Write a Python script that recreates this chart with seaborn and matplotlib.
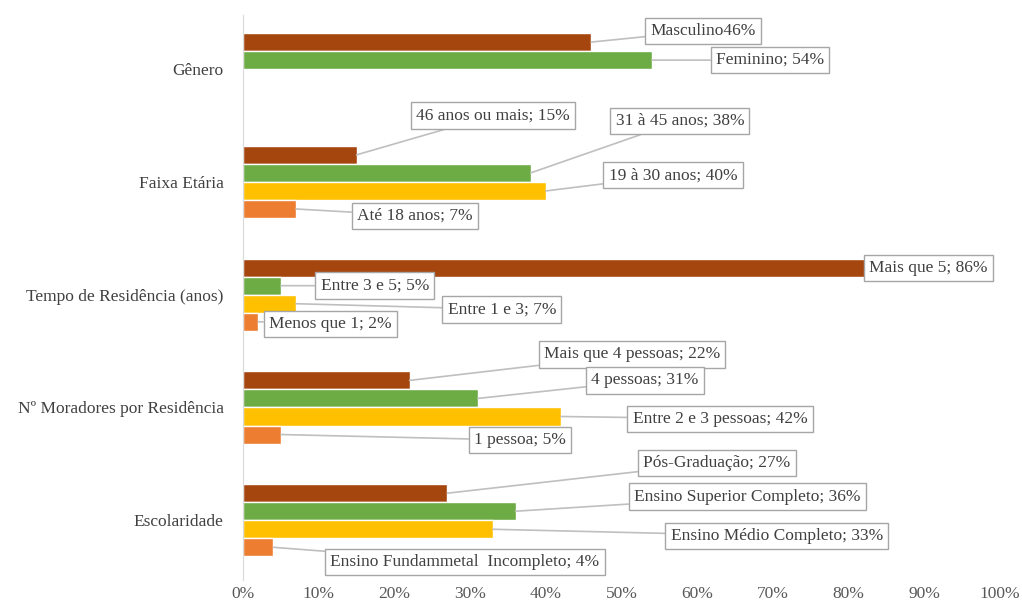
import matplotlib
matplotlib.use("Agg")
import matplotlib.pyplot as plt
import seaborn as sns
import pandas as pd
from matplotlib.ticker import PercentFormatter

# categories (top to bottom) and the four series (top bar to bottom bar)
categories = ["Gênero", "Faixa Etária", "Tempo de Residência (anos)",
              "Nº Moradores por Residência", "Escolaridade"]
series = ["S4", "S3", "S2", "S1"]
colors = ["#A5460F", "#6DAC45", "#FFC000", "#ED7D31"]

s4_values = [46, 15, 86, 22, 27]
s3_values = [54, 38, 5, 31, 36]
s2_values = [None, 40, 7, 42, 33]
s1_values = [None, 7, 2, 5, 4]

s4_labels = ["Masculino46%", "46 anos ou mais; 15%", "Mais que 5; 86%",
             "Mais que 4 pessoas; 22%", "Pós-Graduação; 27%"]
s3_labels = ["Feminino; 54%", "31 à 45 anos; 38%", "Entre 3 e 5; 5%",
             "4 pessoas; 31%", "Ensino Superior Completo; 36%"]
s2_labels = [None, "19 à 30 anos; 40%", "Entre 1 e 3; 7%",
             "Entre 2 e 3 pessoas; 42%", "Ensino Médio Completo; 33%"]
s1_labels = [None, "Até 18 anos; 7%", "Menos que 1; 2%",
             "1 pessoa; 5%", "Ensino Fundammetal  Incompleto; 4%"]

# callout box centres (x in %, y in category units) - layout only
s4_pos = [(60.8, -0.34), (33.0, 0.41), (90.5, 1.765), (51.4, 2.53), (62.6, 3.49)]
s3_pos = [(69.6, -0.08), (57.7, 0.46), (17.4, 1.92), (53.1, 2.76), (66.6, 3.79)]
s2_pos = [None, (56.8, 0.94), (34.2, 2.13), (63.0, 3.10), (70.5, 4.14)]
s1_pos = [None, (22.7, 1.30), (11.5, 2.26), (36.6, 3.29), (29.3, 4.37)]

all_values = [s4_values, s3_values, s2_values, s1_values]
all_labels = [s4_labels, s3_labels, s2_labels, s1_labels]
all_pos = [s4_pos, s3_pos, s2_pos, s1_pos]

rows = []
for name, vals in zip(series, all_values):
    for cat, v in zip(categories, vals):
        if v is not None:
            rows.append({"cat": cat, "serie": name, "valor": v})
df = pd.DataFrame(rows)

sns.set_style("white")
plt.rcParams["font.family"] = ["Liberation Serif", "DejaVu Serif"]

fig = plt.figure(figsize=(10.22, 6.05), dpi=100)
ax = fig.add_axes([0.2378, 0.0413, 0.7407, 0.9339])

bar_w = 0.64
sns.barplot(data=df, y="cat", x="valor", hue="serie", order=categories,
            hue_order=series, palette=colors, orient="h", width=bar_w,
            saturation=1, legend=False, ax=ax, zorder=2)

ax.set_xlim(0, 100)
ax.set_ylim(4.53, -0.48)
ax.xaxis.set_major_formatter(PercentFormatter(decimals=0))
ax.set_xticks(range(0, 101, 10))
ax.set_xlabel("")
ax.set_ylabel("")
ax.tick_params(axis="x", labelsize=12.5, labelcolor="#595959", length=0, pad=4)
ax.tick_params(axis="y", labelsize=12.5, labelcolor="#404040", length=0, pad=14)
for side in ["top", "right", "bottom"]:
    ax.spines[side].set_visible(False)
ax.spines["left"].set_color("#D9D9D9")

# data labels as callout boxes with leader lines
slot = bar_w / len(series)
for k in range(len(series)):
    for i in range(len(categories)):
        v = all_values[k][i]
        if v is None:
            continue
        yb = i - bar_w / 2 + slot * (k + 0.5)
        ax.annotate(all_labels[k][i], xy=(v, yb), xytext=all_pos[k][i],
                    ha="center", va="center", fontsize=12.5, color="#404040",
                    bbox=dict(boxstyle="square,pad=0.3", fc="white",
                              ec="#A6A6A6", lw=1),
                    arrowprops=dict(arrowstyle="-", color="#BFBFBF", lw=1.2,
                                    shrinkA=0, shrinkB=0),
                    zorder=5)

fig.savefig("out.png", dpi=100)
